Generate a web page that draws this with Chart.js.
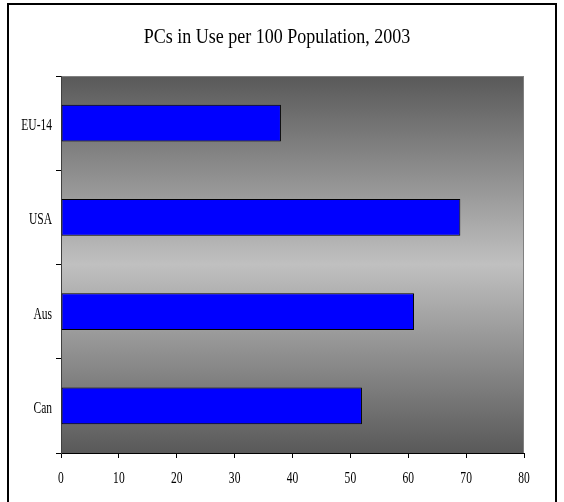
<!DOCTYPE html>
<html>
<head>
<meta charset="utf-8">
<script src="https://cdn.jsdelivr.net/npm/chart.js@4/dist/chart.umd.min.js"></script>
<style>
  html, body { margin: 0; padding: 0; background: #ffffff; }
  canvas { display: block; }
</style>
</head>
<body>
<canvas id="pcs" width="564" height="502"></canvas>
<script>
// PCs in use per 100 population, 2003
const categories = ['EU-14', 'USA', 'Aus', 'Can'];
const pcsPer100 = [38, 69, 61, 52];
const xTicks = [0, 10, 20, 30, 40, 50, 60, 70, 80];
const chartTitle = 'PCs in Use per 100 Population, 2003';

const SERIF = '"Liberation Serif", "Times New Roman", serif';

// draws narrow serif text by squeezing it horizontally around its anchor
function narrowText(ctx, text, x, y, size, align, squeeze) {
  ctx.save();
  ctx.font = size + 'px ' + SERIF;
  ctx.fillStyle = '#000000';
  ctx.textBaseline = 'alphabetic';
  ctx.textAlign = align;
  ctx.translate(x, y);
  ctx.scale(squeeze, 1);
  ctx.fillText(text, 0, 0);
  ctx.restore();
}

const frameAndBackdrop = {
  id: 'frameAndBackdrop',
  beforeDraw(chart) {
    const { ctx, chartArea: a } = chart;
    ctx.save();
    ctx.fillStyle = '#ffffff';
    ctx.fillRect(0, 0, chart.width, chart.height);
    // outer frame
    ctx.strokeStyle = '#000000';
    ctx.lineWidth = 2;
    ctx.strokeRect(8, 4, 548, 520);
    // plot area shading: dark at the edges, light in the middle
    const g = ctx.createLinearGradient(0, a.top, 0, a.bottom);
    g.addColorStop(0, '#595959');
    g.addColorStop(0.5, '#c0c0c0');
    g.addColorStop(1, '#595959');
    ctx.fillStyle = g;
    ctx.fillRect(a.left, a.top, a.right - a.left, a.bottom - a.top);
    ctx.strokeStyle = '#808080';
    ctx.lineWidth = 1;
    ctx.strokeRect(a.left + 0.5, a.top + 0.5, a.right - a.left - 1, a.bottom - a.top);
    ctx.restore();
  },
  afterDraw(chart) {
    const { ctx } = chart;
    const xs = chart.scales.x, ys = chart.scales.y;
    narrowText(ctx, chartTitle, 277, 43, 20, 'center', 0.9);
    xs.ticks.forEach((t, i) => {
      narrowText(ctx, String(t.value), xs.getPixelForTick(i), 483, 16, 'center', 0.72);
    });
    ys.ticks.forEach((t, i) => {
      narrowText(ctx, categories[t.value], 52, ys.getPixelForTick(i) + 7, 16, 'right', 0.72);
    });
  }
};

new Chart(document.getElementById('pcs'), {
  type: 'bar',
  data: {
    labels: categories,
    datasets: [{
      data: pcsPer100,
      backgroundColor: '#0000ff',
      borderColor: '#000000',
      borderWidth: 1,
      borderSkipped: false,
      barPercentage: 0.39,
      categoryPercentage: 1
    }]
  },
  options: {
    indexAxis: 'y',
    responsive: false,
    animation: false,
    devicePixelRatio: 1,
    layout: { padding: { left: 0, top: 76, right: 40, bottom: 0 } },
    plugins: { legend: { display: false }, title: { display: false }, tooltip: { enabled: false } },
    scales: {
      x: {
        min: 0, max: 80,
        afterBuildTicks(scale) { scale.ticks = xTicks.map(v => ({ value: v })); },
        afterFit(scale) { scale.height = 49; },
        border: { display: true, color: '#000000', width: 1 },
        grid: { drawOnChartArea: false, drawTicks: true, tickLength: 5, color: '#000000' },
        ticks: { display: false }
      },
      y: {
        afterFit(scale) { scale.width = 61; },
        border: { display: true, color: '#404040', width: 1 },
        grid: { drawOnChartArea: false, drawTicks: true, tickLength: 5, color: '#000000', offset: true },
        ticks: { display: false }
      }
    }
  },
  plugins: [frameAndBackdrop]
});
</script>
</body>
</html>
